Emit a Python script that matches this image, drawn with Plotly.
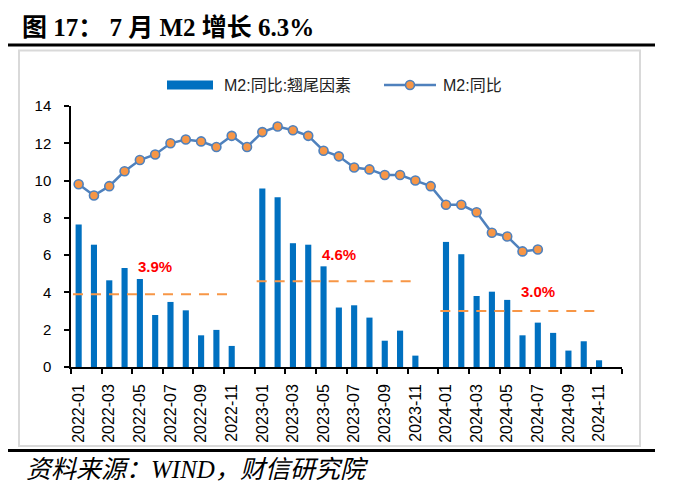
import plotly.graph_objects as go

# ---------------- data ----------------
months = [f"{y}-{m:02d}" for y in (2022, 2023, 2024) for m in range(1, 13)]

tail_factor = [7.65, 6.56, 4.65, 5.31, 4.72, 2.79, 3.49, 3.04, 1.70, 1.99, 1.13, 0,
               9.57, 9.10, 6.64, 6.56, 5.40, 3.19, 3.31, 2.65, 1.41, 1.95, 0.61, 0,
               6.71, 6.05, 3.81, 4.04, 3.60, 1.70, 2.38, 1.83, 0.88, 1.38, 0.36, 0]

m2_yoy = [9.8, 9.2, 9.7, 10.5, 11.1, 11.4, 12.0, 12.2, 12.1, 11.8, 12.4, 11.8,
          12.6, 12.9, 12.7, 12.4, 11.6, 11.3, 10.7, 10.6, 10.3, 10.3, 10.0, 9.7,
          8.7, 8.7, 8.3, 7.2, 7.0, 6.2, 6.3]

avg_years = ["2022", "2023", "2024"]
avg_values = [3.9, 4.6, 3.0]
avg_labels = ["3.9%", "4.6%", "3.0%"]

tick_labels = months[::2]

# ---------------- layout helpers ----------------
# page body has an 8px margin; the figure is drawn 8px smaller and
# reference pixel coordinates are shifted accordingly
OFF = 8
W, H = 676 - OFF, 490 - OFF
L, T = 71 - OFF, 106 - OFF
PR, PB = 622 - OFF, 367 - OFF
R, B = W - PR, H - PB
PW, PH = W - L - R, H - T - B


def px2x(px):
    return (px - OFF - L) / PW


def py2y(py):
    return (PB - (py - OFF)) / PH


xi = list(range(len(months)))

fig = go.Figure()

fig.add_trace(go.Bar(
    x=xi, y=tail_factor, width=0.4,
    marker=dict(color="#0070C0", line=dict(width=0)),
    name="M2:同比:翘尾因素", showlegend=False,
))

fig.add_trace(go.Scatter(
    x=xi[:len(m2_yoy)], y=m2_yoy, mode="lines+markers",
    line=dict(color="#4F81BD", width=2.5),
    marker=dict(color="#F79646", size=9, line=dict(color="#4F81BD", width=1.6)),
    name="M2:同比", showlegend=False,
))

label_dx = [5, 5, 6]
label_dy = [1.5, 1.43, 1.06]
for k, (yr, v, lab) in enumerate(zip(avg_years, avg_values, avg_labels)):
    start = months.index(f"{yr}-01")
    fig.add_trace(go.Scatter(
        x=[start - 0.37, start + 10.1], y=[v, v], mode="lines",
        line=dict(color="#F79646", width=2, dash="10px,8px"),
        showlegend=False, hoverinfo="skip",
    ))
    fig.add_annotation(
        x=start + label_dx[k], y=v + label_dy[k], text=f"<b>{lab}</b>",
        showarrow=False, font=dict(color="#FF0000", size=15,
                                   family="Liberation Sans, Arial, sans-serif"),
    )

# ---------------- decorations ----------------
shapes = [
    dict(type="rect", xref="paper", yref="paper",
         x0=px2x(19), x1=px2x(640), y0=py2y(446), y1=py2y(50.5),
         line=dict(color="#D9D9D9", width=2), fillcolor="rgba(0,0,0,0)", layer="below"),
    dict(type="line", xref="paper", yref="paper",
         x0=px2x(6), x1=px2x(655), y0=py2y(45), y1=py2y(45),
         line=dict(color="black", width=3)),
    dict(type="line", xref="paper", yref="paper",
         x0=px2x(6), x1=px2x(655), y0=py2y(450.5), y1=py2y(450.5),
         line=dict(color="black", width=3)),
    dict(type="rect", xref="paper", yref="paper",
         x0=px2x(167), x1=px2x(213), y0=py2y(89.5), y1=py2y(80.5),
         line=dict(width=0), fillcolor="#0070C0"),
    dict(type="line", xref="paper", yref="paper",
         x0=px2x(384), x1=px2x(436), y0=py2y(85), y1=py2y(85),
         line=dict(color="#4F81BD", width=2.5)),
    dict(type="circle", xref="paper", yref="paper",
         x0=px2x(405.5), x1=px2x(414.5), y0=py2y(89.5), y1=py2y(80.5),
         line=dict(color="#4F81BD", width=1.6), fillcolor="#F79646"),
]

cjk_sans = "Liberation Sans, Arial, Noto Sans CJK SC, sans-serif"
serif = "Liberation Serif, Times New Roman, Noto Sans CJK SC, serif"
annotations = [
    dict(xref="paper", yref="paper", x=px2x(222), y=py2y(85),
         xanchor="left", yanchor="middle", showarrow=False,
         text="M2:同比:翘尾因素", font=dict(size=16, color="#222", family=cjk_sans)),
    dict(xref="paper", yref="paper", x=px2x(441), y=py2y(85),
         xanchor="left", yanchor="middle", showarrow=False,
         text="M2:同比", font=dict(size=16, color="#222", family=cjk_sans)),
    dict(xref="paper", yref="paper", x=px2x(20), y=py2y(28),
         xanchor="left", yanchor="middle", showarrow=False,
         text="<b>图 17： 7 月 M2 增长 6.3%</b>",
         font=dict(size=25, color="black", family=serif)),
    dict(xref="paper", yref="paper", x=px2x(24), y=py2y(469),
         xanchor="left", yanchor="middle", showarrow=False,
         text="<i>资料来源：WIND，财信研究院</i>",
         font=dict(size=25, color="black", family=serif)),
]

fig.update_layout(
    width=W, height=H,
    margin=dict(l=L, r=R, t=T, b=B, pad=0),
    paper_bgcolor="white", plot_bgcolor="white",
    shapes=shapes, annotations=list(fig.layout.annotations) + annotations,
)

fig.update_xaxes(
    range=[-0.5, 35.5], tickmode="array", tickvals=xi[::2], ticktext=tick_labels,
    tickangle=-90, ticks="", showgrid=False, zeroline=False,
    showline=True, linecolor="black", linewidth=1.5,
    tickfont=dict(size=16, color="black", family="Liberation Sans, Arial, sans-serif"),
    ticklabelstandoff=9,
    minor=dict(tickmode="linear", tick0=-0.5, dtick=2, ticks="outside", ticklen=5,
               tickwidth=1.5, tickcolor="black", showgrid=False),
)

fig.update_yaxes(
    range=[0, 14], dtick=2, tick0=0, ticks="outside", ticklen=5, tickwidth=1.5,
    tickcolor="black", showgrid=False, zeroline=False,
    showline=True, linecolor="black", linewidth=1.5,
    tickfont=dict(size=15, color="black", family="Liberation Sans, Arial, sans-serif"),
    ticklabelstandoff=10,
)

fig.write_html("out.html")
